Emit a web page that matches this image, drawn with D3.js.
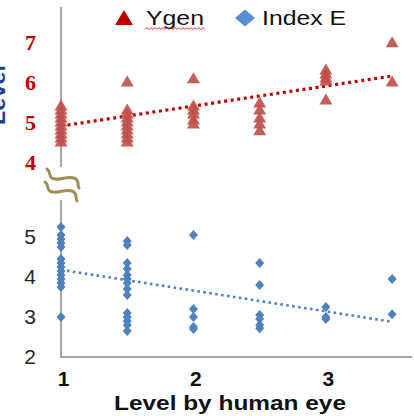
<!DOCTYPE html>
<html>
<head>
<meta charset="utf-8">
<script src="https://cdn.jsdelivr.net/npm/d3@7"></script>
<style>
  body { margin: 0; background: #fff; }
  svg { display: block; font-family: "Liberation Sans", Arial, sans-serif; }
</style>
</head>
<body>
<div id="chart"></div>
<script>
// values: [level by eye, value]
const ygenPoints = [
  [1, 5.4], [1, 5.3], [1, 5.2], [1, 5.1], [1, 5.0], [1, 4.9], [1, 4.8], [1, 4.7], [1, 4.6], [1, 4.5],
  [1.5, 6.0], [1.5, 5.3], [1.5, 5.2], [1.5, 5.1], [1.5, 5.0], [1.5, 4.9], [1.5, 4.8], [1.5, 4.7], [1.5, 4.6], [1.5, 4.5],
  [2, 6.08], [2, 5.4], [2, 5.3], [2, 5.2], [2, 5.05], [2, 4.95],
  [2.5, 5.47], [2.5, 5.3], [2.5, 5.1], [2.5, 4.95], [2.5, 4.78],
  [3, 6.3], [3, 6.2], [3, 6.1], [3, 6.02], [3, 5.55],
  [3.5, 6.98], [3.5, 6.0]
];
const indexEPoints = [
  [1, 5.25], [1, 5.05], [1, 4.95], [1, 4.85], [1, 4.75], [1, 4.45], [1, 4.35], [1, 4.25], [1, 4.15],
  [1, 4.05], [1, 3.95], [1, 3.85], [1, 3.75], [1, 3.0],
  [1.5, 4.9], [1.5, 4.8], [1.5, 4.35], [1.5, 4.2], [1.5, 4.05], [1.5, 3.95], [1.5, 3.85], [1.5, 3.7], [1.5, 3.55],
  [1.5, 3.1], [1.5, 3.0], [1.5, 2.9], [1.5, 2.8], [1.5, 2.65],
  [2, 5.05], [2, 3.2], [2, 3.0], [2, 2.75], [2, 2.7],
  [2.5, 4.35], [2.5, 3.8], [2.5, 3.05], [2.5, 2.95], [2.5, 2.8], [2.5, 2.72],
  [3, 3.25], [3, 3.0], [3, 2.95],
  [3.5, 3.95], [3.5, 3.07]
];
const ygenTrend = [[1, 4.9], [3.5, 6.15]];
const indexETrend = [[1, 4.18], [3.5, 2.88]];
const xTicks = [1, 2, 3];
const topTicks = [4, 5, 6, 7];
const bottomTicks = [2, 3, 4, 5];
const seriesNames = ["Ygen", "Index E"];

const width = 414, height = 416;
const svg = d3.select("#chart").append("svg")
  .attr("width", width).attr("height", height);

const x = d3.scaleLinear().domain([1, 3.65]).range([61, 412]);
const yTop = d3.scaleLinear().domain([4, 7]).range([162, 42]);
const yBot = d3.scaleLinear().domain([2, 5]).range([357, 237]);

const red = "#c00000", redPt = "#c0504d", blue = "#4f81bd";
const intFmt = d3.format("d");

// triangle / diamond helpers
function tri(cx, cy, w, h) {
  return `M${cx},${cy - h * 0.6}L${cx + w / 2},${cy + h * 0.4}L${cx - w / 2},${cy + h * 0.4}Z`;
}
function diamond(cx, cy, w, h) {
  return `M${cx},${cy - h / 2}L${cx + w / 2},${cy}L${cx},${cy + h / 2}L${cx - w / 2},${cy}Z`;
}

// axis lines (broken left axis)
const axisColor = "#a6a6a6";
svg.append("line").attr("x1", 61).attr("x2", 61).attr("y1", 7).attr("y2", 167)
  .attr("stroke", axisColor).attr("stroke-width", 2);
svg.append("line").attr("x1", 61).attr("x2", 61).attr("y1", 200).attr("y2", yBot(2))
  .attr("stroke", axisColor).attr("stroke-width", 2);
svg.append("line").attr("x1", 60).attr("x2", 412).attr("y1", yBot(2)).attr("y2", yBot(2))
  .attr("stroke", axisColor).attr("stroke-width", 2);

// upper tick labels
const gTop = svg.append("g").attr("transform", "translate(36,0)")
  .call(d3.axisLeft(yTop).tickValues(topTicks).tickFormat(intFmt).tickSize(0).tickPadding(0));
gTop.select(".domain").remove();
gTop.selectAll("text")
  .attr("fill", red).attr("font-size", 22).attr("font-weight", "bold")
  .attr("font-family", "'Liberation Serif', 'Times New Roman', serif");

// lower tick labels
const gBot = svg.append("g").attr("transform", "translate(36,0)")
  .call(d3.axisLeft(yBot).tickValues(bottomTicks).tickFormat(intFmt).tickSize(0).tickPadding(0));
gBot.select(".domain").remove();
gBot.selectAll("text")
  .attr("fill", "#262626").attr("font-size", 21)
  .attr("font-family", "'Liberation Sans', Arial, sans-serif");

// x tick labels
const gX = svg.append("g").attr("transform", "translate(2,386)")
  .call(d3.axisBottom(x).tickValues(xTicks).tickFormat(intFmt).tickSize(0).tickPadding(0));
gX.select(".domain").remove();
gX.selectAll("text")
  .attr("fill", "#111").attr("font-size", 21).attr("font-weight", "bold")
  .attr("font-family", "'Liberation Sans', Arial, sans-serif")
  .attr("dy", "0");

// axis titles
svg.append("text").attr("x", 114).attr("y", 410)
  .attr("font-size", 20).attr("font-weight", "bold").attr("fill", "#111")
  .attr("textLength", 232).attr("lengthAdjust", "spacingAndGlyphs")
  .text("Level by human eye");
// left title sits mostly outside the frame, as in the original
svg.append("text").attr("transform", "translate(5,95) rotate(-90)")
  .attr("x", -30).attr("font-size", 22).attr("font-weight", "bold")
  .attr("textLength", 60).attr("lengthAdjust", "spacingAndGlyphs")
  .attr("fill", "#1f3c88").text("Level");

// axis break mark
const brk = svg.append("g").attr("fill", "none").attr("stroke", "#9c9152")
  .attr("stroke-width", 3).attr("stroke-linecap", "round");
brk.append("path").attr("d", "M47,169 C52,172 47,178 55,179 C62,180 67,176 74,178 C80,180 77,186 79,188");
brk.append("path").attr("d", "M45,182 C50,185 45,191 53,192 C60,193 65,189 72,191 C78,193 75,199 77,201");

// trend lines
const line = y => d3.line().x(d => x(d[0])).y(d => y(d[1]));
svg.append("path").datum(ygenTrend).attr("d", line(yTop))
  .attr("stroke", red).attr("stroke-width", 3.2).attr("stroke-dasharray", "3,3.6").attr("fill", "none");
svg.append("path").datum(indexETrend).attr("d", line(yBot))
  .attr("stroke", blue).attr("stroke-width", 2.6).attr("stroke-dasharray", "2.6,3.4").attr("fill", "none");

// points
svg.append("g").selectAll("path").data(ygenPoints).join("path")
  .attr("d", d => tri(x(d[0]), yTop(d[1]), 13, 11))
  .attr("fill", redPt).attr("fill-opacity", 0.92);
svg.append("g").selectAll("path").data(indexEPoints).join("path")
  .attr("d", d => diamond(x(d[0]), yBot(d[1]), 9, 10))
  .attr("fill", blue);

// legend
svg.append("path").attr("d", tri(124, 19, 18, 15)).attr("fill", red);
svg.append("text").attr("x", 146).attr("y", 25).attr("font-size", 21).attr("fill", "#111")
  .attr("textLength", 58).attr("lengthAdjust", "spacingAndGlyphs").text(seriesNames[0]);
svg.append("path").attr("fill", "none").attr("stroke", "#e03030").attr("stroke-width", 1)
  .attr("d", d3.range(0, 31).map(i => `${i ? "L" : "M"}${145 + i * 2},${i % 2 ? 27.5 : 29.5}`).join(""));
svg.append("path").attr("d", diamond(245, 18, 20, 17)).attr("fill", "#558ed5");
svg.append("text").attr("x", 262).attr("y", 25).attr("font-size", 21).attr("fill", "#111")
  .attr("textLength", 84).attr("lengthAdjust", "spacingAndGlyphs").text(seriesNames[1]);
</script>
</body>
</html>
